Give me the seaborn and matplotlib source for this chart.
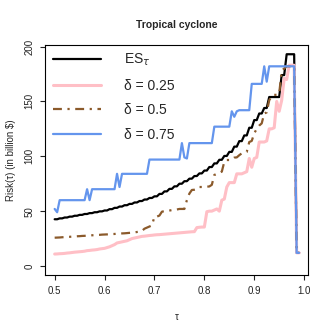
import matplotlib
matplotlib.use("Agg")
import matplotlib.pyplot as plt
import numpy as np
import seaborn as sns

# tau grid: 0.5 to 0.99 by 0.005
tau = np.round(np.linspace(0.5, 0.99, 99), 3)

es_tau = [
    42.6, 42.6, 43.4, 43.4, 44.2, 44.2, 45.0, 45.0, 45.8, 45.8,
    46.6, 46.6, 47.4, 47.4, 48.2, 48.2, 49.0, 49.0, 49.8, 49.8,
    50.6, 50.6, 51.8, 51.8, 53.0, 53.0, 54.2, 54.2, 55.4, 55.4,
    56.6, 56.6, 57.9, 57.9, 59.2, 59.2, 60.6, 60.6, 62.0, 62.0,
    63.5, 63.5, 65.7, 65.7, 68.0, 68.0, 70.3, 70.3, 72.6, 72.6,
    75.0, 75.0, 77.3, 77.3, 79.6, 79.6, 82.0, 82.0, 84.4, 84.4,
    87.0, 87.0, 90.2, 90.2, 93.5, 93.5, 96.8, 96.8, 100.3, 100.3,
    104.0, 104.0, 108.8, 108.8, 113.8, 113.8, 119.0, 119.0, 126.0, 126.0,
    133.0, 133.0, 139.0, 139.0, 144.0, 144.0, 154.0, 154.0, 154.0, 154.0,
    154.0, 174.0, 174.0, 193.0, 193.0, 193.0, 193.0, 12.0, 12.0,
]

delta_025 = [
    10.9, 11.0, 11.2, 11.3, 11.5, 11.8, 12.0, 12.3, 12.6, 12.8,
    13.0, 13.2, 13.5, 14.0, 14.2, 14.5, 14.7, 15.0, 15.5, 15.8,
    16.1, 16.8, 17.5, 18.5, 19.5, 21.0, 21.5, 22.0, 22.5, 23.0,
    24.0, 25.0, 25.5, 26.0, 26.5, 27.0, 27.2, 27.5, 27.8, 28.0,
    28.3, 28.5, 28.6, 28.8, 29.0, 29.2, 29.4, 29.6, 29.8, 30.0,
    30.2, 30.4, 30.6, 30.8, 31.0, 31.2, 31.3, 35.0, 35.3, 35.5,
    35.5, 49.5, 50.0, 50.0, 51.0, 52.0, 50.0, 60.0, 61.0, 72.0,
    76.0, 76.0, 76.0, 84.0, 84.0, 84.0, 85.0, 86.0, 98.0, 90.0,
    98.0, 99.0, 113.0, 113.0, 113.0, 114.0, 125.0, 125.0, 126.0, 150.0,
    141.0, 151.0, 171.0, 170.0, 183.0, 183.0, 183.0, 12.0, 12.0,
]

delta_05 = [
    25.8, 25.9, 26.0, 26.2, 26.3, 26.5, 26.6, 26.8, 26.9, 27.1,
    27.2, 27.4, 27.5, 27.7, 27.8, 28.0, 28.1, 28.3, 28.4, 28.6,
    28.7, 28.8, 29.0, 29.1, 29.2, 29.4, 29.5, 29.7, 29.8, 30.0,
    30.2, 30.4, 30.6, 31.0, 31.3, 32.0, 34.0, 35.0, 36.0, 37.0,
    45.0, 45.0, 46.0, 49.5, 50.0, 50.0, 50.5, 51.0, 51.5, 51.5,
    52.0, 52.0, 52.0, 60.0, 66.0, 69.3, 69.5, 70.0, 72.0, 72.0,
    72.0, 72.3, 72.5, 74.0, 83.0, 84.0, 85.0, 86.0, 95.0, 96.6,
    96.6, 97.0, 98.8, 99.0, 101.0, 102.7, 103.0, 104.0, 113.0, 114.0,
    121.0, 125.0, 128.0, 130.0, 139.0, 140.0, 151.0, 155.0, 156.0, 156.0,
    157.0, 178.0, 180.0, 182.0, 182.0, 182.0, 182.0, 12.0, 12.0,
]

delta_075 = [
    52.0, 49.0, 60.0, 60.0, 60.0, 60.0, 60.0, 60.0, 60.0, 60.0,
    60.0, 60.0, 60.0, 70.0, 60.0, 70.0, 70.0, 70.0, 70.0, 70.0,
    70.0, 70.0, 70.0, 70.0, 70.0, 84.0, 72.0, 84.0, 84.0, 84.0,
    84.0, 84.0, 84.0, 84.0, 84.0, 84.0, 84.0, 84.0, 97.0, 97.0,
    97.0, 97.0, 97.0, 97.0, 97.0, 97.0, 97.0, 97.0, 97.0, 97.0,
    97.0, 112.0, 99.0, 98.0, 112.0, 112.0, 112.0, 112.0, 112.0, 112.0,
    112.0, 112.0, 112.0, 112.0, 127.0, 127.0, 127.0, 127.0, 127.0, 127.0,
    127.0, 141.0, 136.0, 141.0, 142.0, 142.0, 142.0, 142.0, 142.0, 166.0,
    166.0, 166.0, 166.0, 166.0, 182.0, 168.0, 182.0, 182.0, 182.0, 182.0,
    182.0, 182.0, 182.0, 182.0, 182.0, 182.0, 182.0, 12.0, 12.0,
]

labels = [r"ES$_\tau$", "δ = 0.25", "δ = 0.5", "δ = 0.75"]
colors = ["black", "#FFBFC6", "#8B5A2B", "#6495ED"]

sns.set_style("ticks")
plt.rcParams["font.family"] = ["Liberation Sans", "DejaVu Sans"]

fig = plt.figure(figsize=(3.32, 3.32), dpi=100)
ax = fig.add_axes([0.1355, 0.1717, 0.792, 0.693])

sns.lineplot(x=tau, y=es_tau, ax=ax, color=colors[0], linewidth=1.6, label=labels[0])
sns.lineplot(x=tau, y=delta_025, ax=ax, color=colors[1], linewidth=2.2, label=labels[1])
sns.lineplot(x=tau, y=delta_05, ax=ax, color=colors[2], linewidth=1.6, label=labels[2],
             linestyle=(0, (4, 2.5, 1, 2.5)))
sns.lineplot(x=tau, y=delta_075, ax=ax, color=colors[3], linewidth=1.6, label=labels[3])

ax.set_xlim(0.4806, 1.0076)
ax.set_ylim(-8.2, 201.5)
ax.set_xticks([0.5, 0.6, 0.7, 0.8, 0.9, 1.0])
ax.set_xticklabels(["0.5", "0.6", "0.7", "0.8", "0.9", "1.0"])
ax.set_yticks([0, 50, 100, 150, 200])
ax.set_yticklabels(["0", "50", "100", "150", "200"], rotation=90, va="center")
ax.tick_params(axis="both", labelsize=7, length=3.6, width=0.8, pad=4, colors="#222222")

for side in ["left", "bottom", "right", "top"]:
    ax.spines[side].set_visible(True)
    ax.spines[side].set_color("black")
    ax.spines[side].set_linewidth(0.8)

ax.set_xlabel("τ", fontsize=7, labelpad=12)
ax.set_ylabel(r"Risk(τ) (in billion \$)", fontsize=7, labelpad=6)
ax.set_title("Tropical cyclone", fontsize=7.5, fontweight="bold", pad=12)

ax.legend(loc="upper left", bbox_to_anchor=(0.03, 0.97), frameon=False, fontsize=10,
          handlelength=3.5, handletextpad=1.6, labelspacing=0.76, borderpad=0,
          borderaxespad=0)

fig.savefig("out.png", dpi=100)
